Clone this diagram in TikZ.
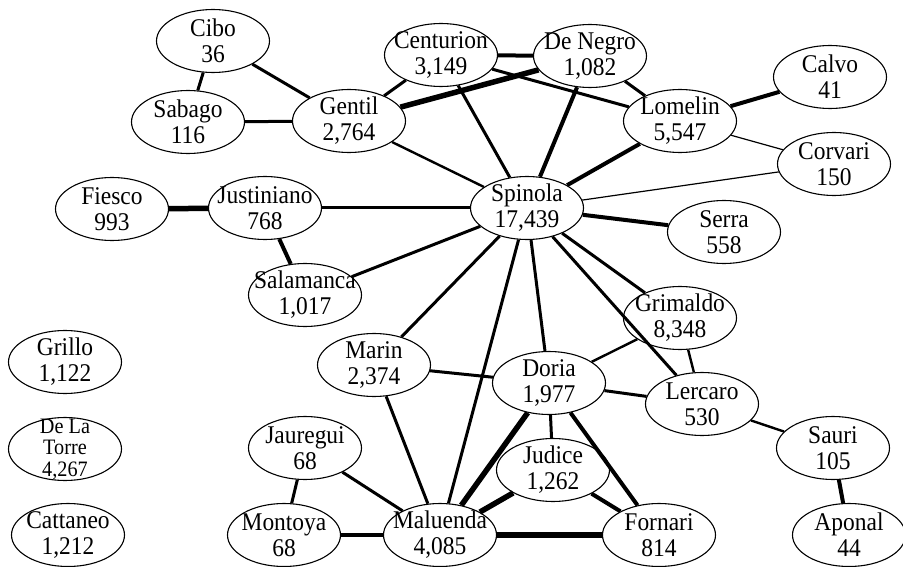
\documentclass[tikz,border=0pt]{standalone}
\usepackage{fontspec}
\setmainfont[FakeStretch=0.92]{Liberation Serif}
\usetikzlibrary{shapes.geometric}
\newcommand\famnode[4]{\node[famshape,label={[famtext]center:{#4}}] (#1) at (#2,#3) {};}
\begin{document}
\begin{tikzpicture}[x=1pt,y=-1pt,
  famshape/.style={ellipse,draw,line width=1.1pt,minimum width=113pt,minimum height=63pt,inner sep=0pt},
  famtext/.style={align=center,font=\fontsize{25.5}{26}\selectfont,inner sep=0pt},
  tightfam/.style={align=center,font=\fontsize{22}{21.5}\selectfont,inner sep=0pt},
  wa/.style={line width=1.2pt},
  wb/.style={line width=2.4pt},
  wc/.style={line width=3pt},
  wd/.style={line width=4pt},
  we/.style={line width=5.5pt}]
\useasboundingbox (0,0) rectangle (903,567);
\famnode{cibo}{213}{41}{Cibo\\36}
\famnode{sabago}{188}{122}{Sabago\\116}
\famnode{gentil}{349}{121}{Gentil\\2,764}
\famnode{centurion}{441}{55}{Centurion\\3,149}
\famnode{denegro}{590}{56}{De Negro\\1,082}
\famnode{lomelin}{680}{121}{Lomelin\\5,547}
\famnode{calvo}{830}{77}{Calvo\\41}
\famnode{corvari}{834}{164}{Corvari\\150}
\famnode{fiesco}{112}{209}{Fiesco\\993}
\famnode{justiniano}{265}{208}{Justiniano\\768}
\famnode{spinola}{527}{208}{Spinola\\17,439}
\famnode{serra}{724}{232}{Serra\\558}
\famnode{salamanca}{305}{295}{Salamanca\\1,017}
\famnode{grimaldo}{680}{318}{Grimaldo\\8,348}
\famnode{marin}{374}{365}{Marin\\2,374}
\famnode{doria}{549}{383}{Doria\\1,977}
\famnode{lercaro}{702}{404}{Lercaro\\530}
\famnode{grillo}{65}{362}{Grillo\\1,122}
\node[famshape,label={[tightfam]center:{De La\\Torre\\4,267}}] (delatorre) at (65,449) {};
\famnode{cattaneo}{68}{535}{Cattaneo\\1,212}
\famnode{jauregui}{305}{448}{Jauregui\\68}
\famnode{judice}{553}{470}{Judice\\1,262}
\famnode{sauri}{833}{448}{Sauri\\105}
\famnode{montoya}{284}{535}{Montoya\\68}
\famnode{maluenda}{440}{535}{Maluenda\\4,085}
\famnode{fornari}{659}{535}{Fornari\\814}
\famnode{aponal}{849}{535}{Aponal\\44}

\draw[wc] (cibo) -- (sabago);
\draw[wc] (cibo) -- (gentil);
\draw[wc] (sabago) -- (gentil);
\draw[wc] (gentil) -- (centurion);
\draw[we] (gentil) -- (denegro);
\draw[wb] (gentil) -- (spinola);
\draw[wd] (centurion) -- (denegro);
\draw[wc] (centurion) -- (lomelin);
\draw[wc] (centurion) -- (spinola);
\draw[wc] (denegro) -- (lomelin);
\draw[wd] (denegro) -- (spinola);
\draw[wd] (lomelin) -- (calvo);
\draw[wa] (lomelin) -- (corvari);
\draw[wd] (lomelin) -- (spinola);
\draw[wa] (spinola) -- (corvari);
\draw[wd] (spinola) -- (serra);
\draw[wc] (spinola) -- (justiniano);
\draw[we] (fiesco) -- (justiniano);
\draw[wd] (justiniano) -- (salamanca);
\draw[wc] (spinola) -- (salamanca);
\draw[wc] (spinola) -- (marin);
\draw[wc] (spinola) -- (maluenda);
\draw[wc] (spinola) -- (doria);
\draw[wc] (spinola) -- (lercaro);
\draw[wc] (spinola) -- (grimaldo);
\draw[wc] (marin) -- (doria);
\draw[wc] (marin) -- (maluenda);
\draw[wb] (doria) -- (grimaldo);
\draw[wc] (doria) -- (lercaro);
\draw[wc] (doria) -- (judice);
\draw[we] (doria) -- (maluenda);
\draw[wd] (doria) -- (fornari);
\draw[wb] (grimaldo) -- (lercaro);
\draw[wb] (lercaro) -- (sauri);
\draw[wd] (sauri) -- (aponal);
\draw[we] (judice) -- (maluenda);
\draw[wd] (judice) -- (fornari);
\draw[we] (maluenda) -- (fornari);
\draw[wc] (jauregui) -- (montoya);
\draw[wc] (jauregui) -- (maluenda);
\draw[wd] (montoya) -- (maluenda);
\end{tikzpicture}
\end{document}
